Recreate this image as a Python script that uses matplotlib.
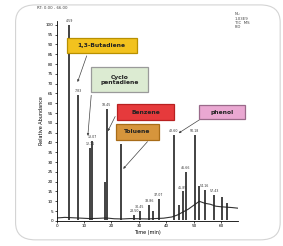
import matplotlib.pyplot as plt
from matplotlib.patches import FancyBboxPatch, Rectangle

# baseline of the trace (min, relative abundance)
base_t = [0, 3, 6, 9, 12, 15, 18, 21, 24, 27, 30, 33, 36, 39, 42, 44, 46, 48,
          50, 52, 54, 56, 58, 60, 62, 64, 66]
base_y = [1.5, 1.8, 1.6, 1.4, 1.2, 1.3, 1.5, 1.1, 1.0, 1.2, 1.1, 1.0, 1.2, 1.4,
          2.0, 3.0, 4.5, 6.0, 8.0, 10.0, 9.0, 8.5, 7.5, 7.2, 7.0, 6.8, 6.5]

# peaks: retention time, height, label
peak_t = [4.6, 7.8, 12.1, 13.0, 17.6, 18.3, 23.5, 28.3, 30.4, 33.8, 35.3, 37.2,
          42.6, 44.5, 46.0, 47.0, 50.3, 52.0, 54.0, 57.4, 60.2, 62.0]
peak_y = [100, 64, 37, 41, 20, 57, 39, 3, 5, 8, 5, 11,
          44, 8, 15, 25, 44, 18, 16, 13, 12, 9]
peak_lab = ["4.59", "7.83", "12.11", "13.07", "", "18.45", "23.77", "28.50",
            "30.45", "33.86", "", "37.07", "42.60", "", "45.85", "46.66",
            "50.18", "", "54.16", "57.43", "", ""]

# compound call-outs
names = ["1,3-Butadiene", "Cyclo\npentadiene", "Benzene", "Toluene", "phenol"]
box_xy = [(16.4, 89.5), (22.9, 72), (32.4, 55.5), (29.5, 45.5), (60.4, 55.5)]
box_wh = [(25.5, 7.5), (20.7, 13), (21, 8), (15.6, 8), (16.7, 7)]
arr_from = [(11.3, 85.5), (12.7, 65.5), (21.8, 54.5), (33.8, 41.5), (53.1, 52.5)]
arr_to = [(7.3, 69.5), (11.3, 42), (18.2, 44.5), (23.6, 25.5), (43.6, 44)]
faces = ["#f2c21e", "#dcebd2", "#e63a3c", "#d6953c", "#eaa8d2"]
edges = ["#b89000", "#9a9a9a", "#b82020", "#a86c18", "#9a6a8a"]

fig = plt.figure(figsize=(2.83, 2.46), dpi=100)
frame = FancyBboxPatch((0.055, 0.025), 0.935, 0.955,
                       boxstyle="round,pad=0,rounding_size=0.07",
                       transform=fig.transFigure, fill=False,
                       ec="#d4d4d4", lw=0.8, zorder=-1)
fig.patches.append(frame)

ax = fig.add_axes([0.2, 0.102, 0.64, 0.813])
ax.patch.set_alpha(0)
ax.plot(base_t, base_y, color="#333333", lw=0.8)
ax.vlines(peak_t, 0.5, peak_y, color="#222222", lw=1.2)
for t, h, lab in zip(peak_t, peak_y, peak_lab):
    if lab:
        ax.text(t, h + 1, lab, fontsize=2.3, ha="center", va="bottom", color="#333333")

for name, (cx, cy), (w, h), a0, a1, fc, ec in zip(names, box_xy, box_wh, arr_from,
                                                 arr_to, faces, edges):
    ax.add_patch(Rectangle((cx - w / 2, cy - h / 2), w, h, fc=fc, ec=ec, lw=0.9,
                           clip_on=False, zorder=5))
    ax.text(cx, cy, name, fontsize=4.3, fontweight="bold", ha="center", va="center",
            color="#222222", clip_on=False, zorder=6, linespacing=1.0)
    ax.annotate("", xy=a1, xytext=a0, zorder=4,
                arrowprops=dict(arrowstyle="-|>", color="#444444", lw=0.5,
                                mutation_scale=3))

ax.set_xlim(0, 66)
ax.set_ylim(0, 102)
ax.set_xticks([0, 10, 20, 30, 40, 50, 60])
ax.set_yticks(range(0, 101, 5))
ax.tick_params(labelsize=3, length=1.5, width=0.5, pad=1)
ax.set_xlabel("Time (min)", fontsize=3.5, labelpad=1)
ax.set_ylabel("Relative Abundance", fontsize=3.5, labelpad=1)
for s in ["top", "right"]:
    ax.spines[s].set_visible(False)
for s in ["left", "bottom"]:
    ax.spines[s].set_linewidth(0.6)

fig.text(0.13, 0.975, "RT: 0.00 - 66.00", fontsize=2.8, va="top", color="#444444")
fig.text(0.83, 0.95, "NL:\n1.03E9\nTIC  MS\nFID", fontsize=2.8, va="top",
         color="#444444", linespacing=1.1)

fig.savefig("out.png", dpi=100, facecolor="white")
